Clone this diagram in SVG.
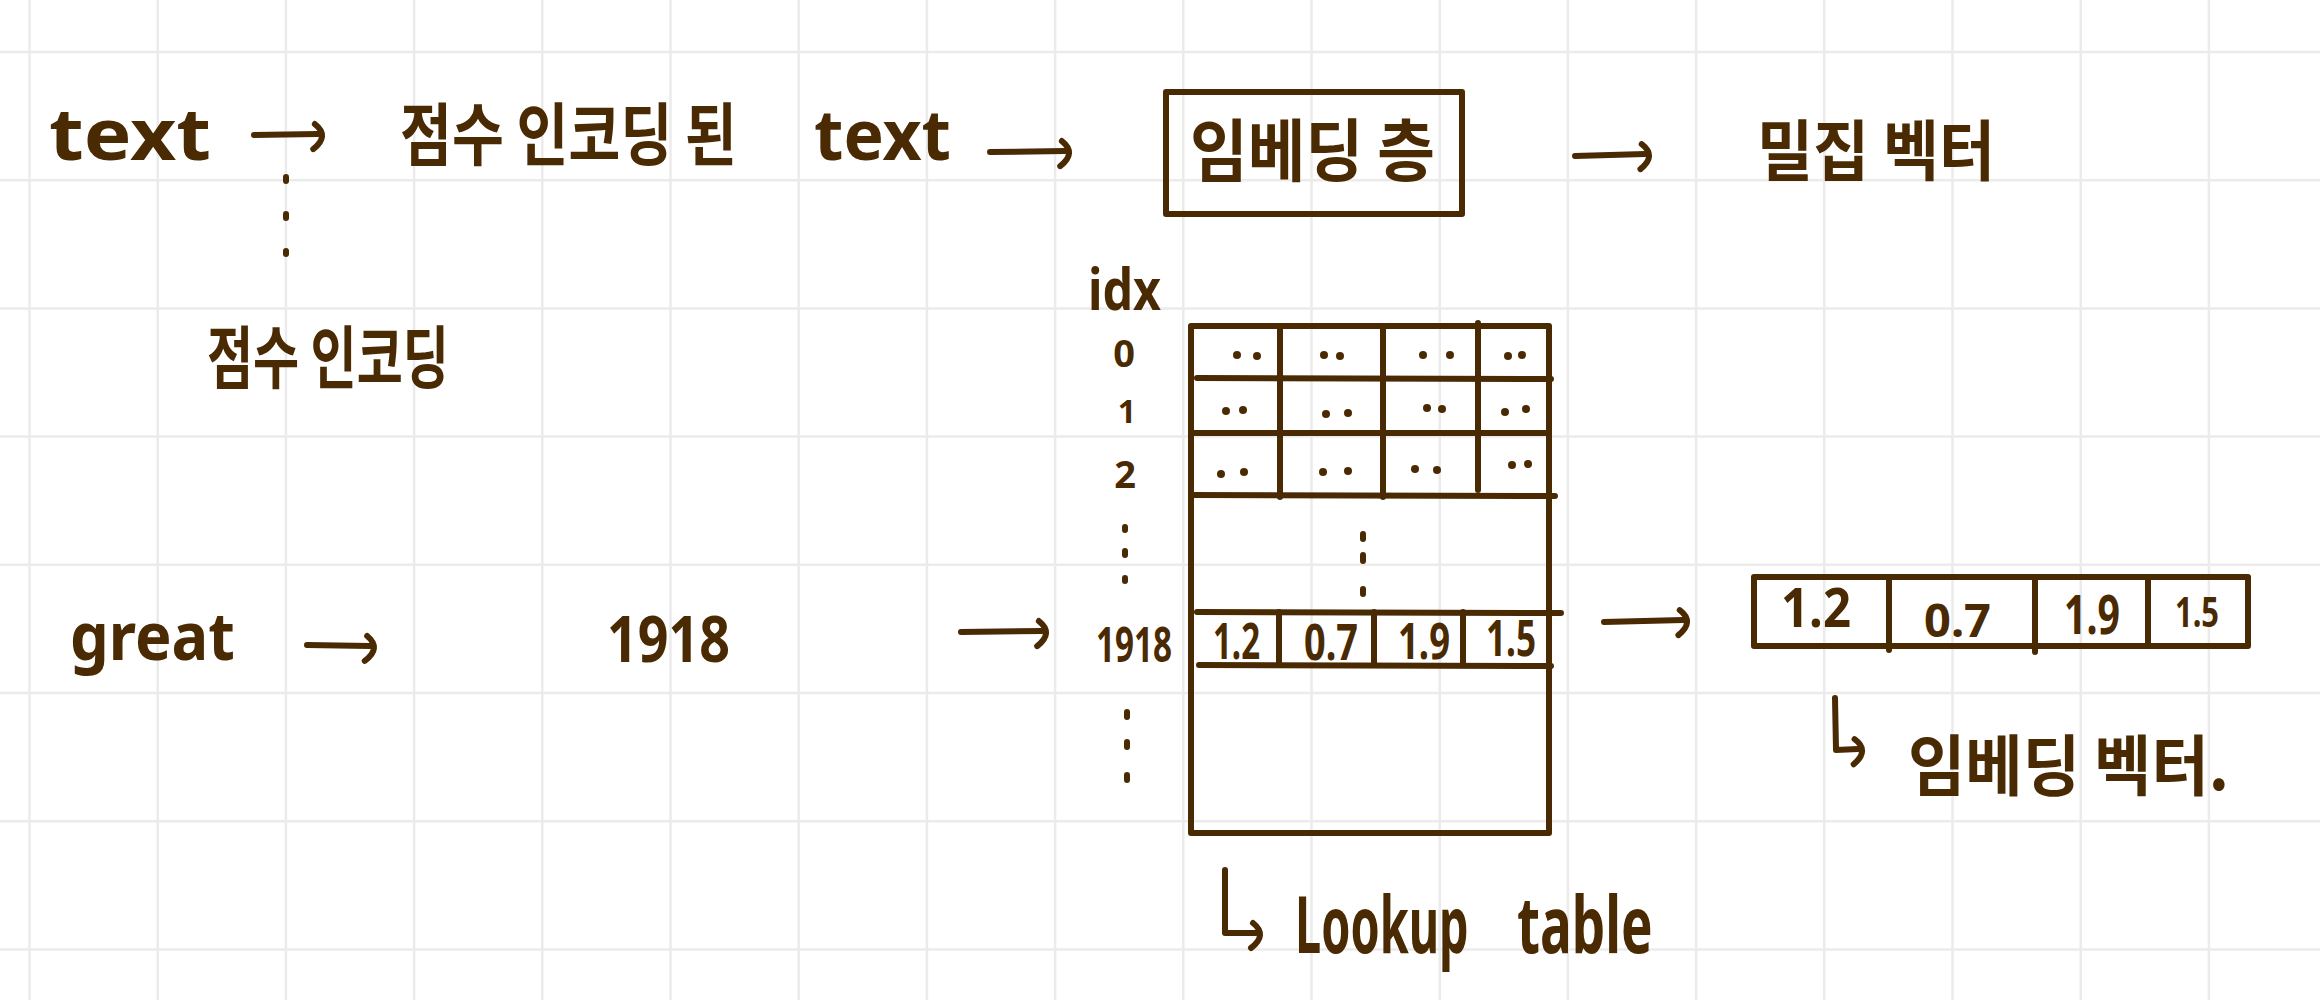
<svg xmlns="http://www.w3.org/2000/svg" width="2320" height="1000" viewBox="0 0 2320 1000">
<style>
.grid{fill:none;stroke:#ebebeb;stroke-width:2.5}
.ink{fill:none;stroke:#4a2a03;stroke-width:6;stroke-linecap:round;stroke-linejoin:round}
.t{font-family:"Noto Sans","Noto Sans CJK KR",sans-serif;font-weight:700;fill:#4a2a03}
.k{font-family:"Noto Sans CJK KR","Noto Sans",sans-serif;font-weight:700;fill:#4a2a03}
</style>
<defs>
<marker id="hd" viewBox="-20 -20 40 40" markerWidth="40" markerHeight="40" refX="0" refY="0" orient="auto" markerUnits="userSpaceOnUse">
<path d="M-3,-10 Q12,2 -5,15" fill="none" stroke="#4a2a03" stroke-width="6" stroke-linecap="round"/>
</marker>
</defs>
<rect width="2320" height="1000" fill="#ffffff"/>
<path class="grid" d="M29.5,0V1000M157.7,0V1000M285.9,0V1000M414.1,0V1000M542.3,0V1000M670.5,0V1000M798.7,0V1000M926.9,0V1000M1055.1,0V1000M1183.3,0V1000M1311.5,0V1000M1439.7,0V1000M1567.9,0V1000M1696.1,0V1000M1824.3,0V1000M1952.5,0V1000M2080.7,0V1000M2208.9,0V1000M0,52H2320M0,180.2H2320M0,308.4H2320M0,436.6H2320M0,564.8H2320M0,693H2320M0,821.2H2320M0,949.4H2320"/>

<g id="connectors">
<path class="ink" d="M254,135 L318,134" marker-end="url(#hd)"/>
<path class="ink" d="M990,152 L1065,151" marker-end="url(#hd)"/>
<path class="ink" d="M1575,156 L1645,154" marker-end="url(#hd)"/>
<path class="ink" d="M307,645 L370,646" marker-end="url(#hd)"/>
<path class="ink" d="M961,632 L1042,631" marker-end="url(#hd)"/>
<path class="ink" d="M1604,622 L1683,620" marker-end="url(#hd)"/>
<path class="ink" d="M286,177 L286,254" stroke-dasharray="4 33"/>
<path class="ink" d="M1225,870 L1225,933 L1256,933" marker-end="url(#hd)"/>
<path class="ink" d="M1835,698 L1836,750 L1858,749" marker-end="url(#hd)"/>
</g>

<g id="text-input">
<text class="t" x="49" y="160" font-size="72" textLength="162" lengthAdjust="spacingAndGlyphs">text</text>
</g>

<g id="encoded-text">
<text class="k" x="400" y="160" font-size="68" textLength="337" lengthAdjust="spacingAndGlyphs">점수 인코딩 된</text>
<text class="t" x="814" y="160" font-size="70" textLength="137" lengthAdjust="spacingAndGlyphs">text</text>
</g>

<g id="embedding-layer">
<rect class="ink" x="1166" y="92" width="296" height="122"/>
<text class="k" x="1190" y="176" font-size="68" textLength="245" lengthAdjust="spacingAndGlyphs">임베딩 층</text>
</g>

<g id="dense-vector">
<text class="k" x="1757" y="175" font-size="66" textLength="238" lengthAdjust="spacingAndGlyphs">밀집 벡터</text>
</g>

<g id="integer-encoding">
<text class="k" x="207" y="383" font-size="68" textLength="242" lengthAdjust="spacingAndGlyphs">점수 인코딩</text>
</g>

<g id="word-great">
<text class="t" x="70" y="660" font-size="66" textLength="165" lengthAdjust="spacingAndGlyphs">great</text>
</g>

<g id="index-1918">
<text class="t" x="607" y="662" font-size="64" textLength="123" lengthAdjust="spacingAndGlyphs">1918</text>
</g>

<g id="idx-column">
<text class="t" x="1088" y="310" font-size="58" textLength="73" lengthAdjust="spacingAndGlyphs">idx</text>
<text class="t" x="1124" y="367" font-size="38" text-anchor="middle">0</text>
<text class="t" x="1127" y="423" font-size="32" text-anchor="middle">1</text>
<text class="t" x="1125" y="488" font-size="38" text-anchor="middle">2</text>
<path class="ink" d="M1125,527 L1125,530 M1125,551 L1125,555 M1125,578 L1125,581"/>
<text class="t" x="1096" y="662" font-size="48" textLength="76" lengthAdjust="spacingAndGlyphs">1918</text>
<path class="ink" d="M1127,712 L1127,717 M1127,742 L1127,747 M1127,775 L1127,780"/>
</g>

<g id="lookup-table">
<rect class="ink" x="1191" y="326" width="358" height="507"/>
<path class="ink" d="M1197,378 L1551,379 M1191,433 L1549,433 M1191,495 L1555,496 M1197,612 L1561,613 M1199,665 L1551,666"/>
<path class="ink" d="M1280,326 L1280,497 M1383,326 L1383,497 M1478,323 L1478,490 M1279,612 L1279,665 M1374,612 L1374,665 M1463,612 L1463,665"/>
<g fill="#4a2a03">
<circle cx="1237" cy="355" r="4"/><circle cx="1257" cy="356" r="4"/>
<circle cx="1324" cy="355" r="4"/><circle cx="1340" cy="356" r="4"/>
<circle cx="1423" cy="355" r="4"/><circle cx="1450" cy="355" r="4"/>
<circle cx="1508" cy="356" r="4"/><circle cx="1522" cy="355" r="4"/>
<circle cx="1226" cy="411" r="4"/><circle cx="1243" cy="410" r="4"/>
<circle cx="1326" cy="414" r="4"/><circle cx="1348" cy="413" r="4"/>
<circle cx="1427" cy="408" r="4"/><circle cx="1442" cy="409" r="4"/>
<circle cx="1505" cy="412" r="4"/><circle cx="1526" cy="409" r="4"/>
<circle cx="1221" cy="474" r="4"/><circle cx="1244" cy="472" r="4"/>
<circle cx="1323" cy="472" r="4"/><circle cx="1348" cy="471" r="4"/>
<circle cx="1415" cy="469" r="4"/><circle cx="1437" cy="470" r="4"/>
<circle cx="1512" cy="465" r="4"/><circle cx="1528" cy="464" r="4"/>
</g>
<path class="ink" d="M1363,534 L1363,539 M1363,555 L1363,561 M1363,589 L1363,594"/>
<text class="t" x="1213" y="659" font-size="50" textLength="47" lengthAdjust="spacingAndGlyphs">1.2</text>
<text class="t" x="1304" y="660" font-size="50" textLength="54" lengthAdjust="spacingAndGlyphs">0.7</text>
<text class="t" x="1398" y="659" font-size="50" textLength="52" lengthAdjust="spacingAndGlyphs">1.9</text>
<text class="t" x="1486" y="656" font-size="50" textLength="50" lengthAdjust="spacingAndGlyphs">1.5</text>
</g>

<g id="lookup-label">
<text class="t" font-size="78" transform="translate(1295,953) scale(0.6,1)" x="0" y="0">Lookup</text>
<text class="t" font-size="78" transform="translate(1517,953) scale(0.68,1)" x="0" y="0">table</text>
</g>

<g id="embedding-vector">
<rect class="ink" x="1754" y="577" width="494" height="69"/>
<path class="ink" d="M1889,577 L1889,650 M2035,577 L2035,652 M2148,577 L2148,646"/>
<text class="t" x="1781" y="627" font-size="54" textLength="70" lengthAdjust="spacingAndGlyphs">1.2</text>
<text class="t" x="1924" y="637" font-size="46" textLength="67" lengthAdjust="spacingAndGlyphs">0.7</text>
<text class="t" x="2064" y="634" font-size="54" textLength="56" lengthAdjust="spacingAndGlyphs">1.9</text>
<text class="t" x="2175" y="627" font-size="42" textLength="44" lengthAdjust="spacingAndGlyphs">1.5</text>
</g>

<g id="embedding-vector-label">
<text class="k" x="1908" y="790" font-size="66" textLength="321" lengthAdjust="spacingAndGlyphs">임베딩 벡터.</text>
</g>
</svg>
